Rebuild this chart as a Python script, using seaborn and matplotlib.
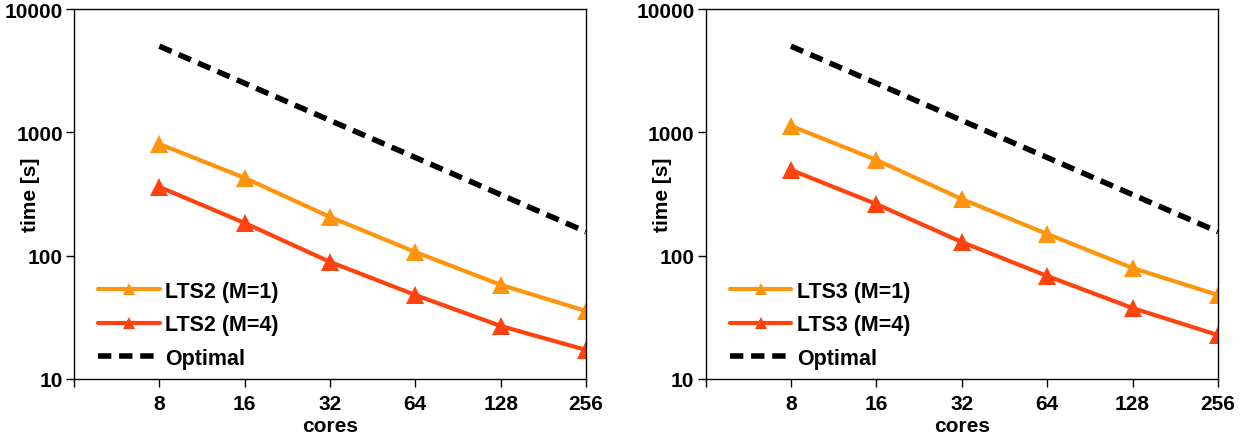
import numpy as np
import pandas as pd
import matplotlib
matplotlib.use("Agg")
import matplotlib.pyplot as plt
import seaborn as sns

# values
cores = [8, 16, 32, 64, 128, 256]
lts2_m1 = [805, 427, 206, 107, 58, 35.6]
lts2_m4 = [361, 184, 89, 48, 26.9, 17.2]
lts3_m1 = [1127, 597, 288, 150, 79.4, 48]
lts3_m4 = [496, 262, 129, 68.4, 37.6, 22.7]
optimal = [5000, 2500, 1250, 625, 312.5, 156.25]

sns.set_theme(style="white")
plt.rcParams['font.family'] = ['Liberation Sans', 'DejaVu Sans']
plt.rcParams['font.weight'] = 'bold'
plt.rcParams['axes.labelweight'] = 'bold'
plt.rcParams['text.color'] = 'black'
plt.rcParams['axes.labelcolor'] = 'black'
plt.rcParams['xtick.color'] = 'black'
plt.rcParams['ytick.color'] = 'black'

c1 = "#ff950e"
c4 = "#ff420e"

fig = plt.figure(figsize=(12.51, 4.39), dpi=100)
ax1 = fig.add_axes([74 / 1251, 59 / 439, 512 / 1251, 370 / 439])
ax2 = fig.add_axes([705.5 / 1251, 59 / 439, 512.5 / 1251, 370 / 439])

panels = [(ax1, "LTS2", lts2_m1, lts2_m4), (ax2, "LTS3", lts3_m1, lts3_m4)]
for ax, name, m1, m4 in panels:
    df = pd.DataFrame({"cores": cores, "m1": m1, "m4": m4, "opt": optimal})
    sns.lineplot(data=df, x="cores", y="m1", ax=ax, color=c1, lw=3,
                 marker="^", markersize=13, markeredgewidth=0,
                 label=f"{name} (M=1)")
    sns.lineplot(data=df, x="cores", y="m4", ax=ax, color=c4, lw=3,
                 marker="^", markersize=13, markeredgewidth=0,
                 label=f"{name} (M=4)")
    sns.lineplot(data=df, x="cores", y="opt", ax=ax, color="black", lw=4,
                 dashes=(2.4, 1.4), label="Optimal")
    ax.set_xscale("log", base=2)
    ax.set_yscale("log")
    ax.set_xlim(4, 256)
    ax.set_ylim(10, 10000)
    ax.set_xticks([4] + cores)
    ax.set_xticklabels([""] + [str(c) for c in cores])
    ax.set_yticks([10, 100, 1000, 10000])
    ax.set_yticklabels(["10", "100", "1000", "10000"])
    ax.minorticks_off()
    ax.tick_params(axis="both", which="major", direction="out", length=6,
                   width=1, color="black", labelsize=15, left=True,
                   bottom=True)
    ax.tick_params(axis="x", pad=5)
    ax.tick_params(axis="y", pad=2)
    for sp in ax.spines.values():
        sp.set_color("black")
        sp.set_linewidth(1)
        sp.set_visible(True)
    for lab in ax.get_xticklabels() + ax.get_yticklabels():
        lab.set_fontweight("bold")
        lab.set_color("black")
    ax.set_xlabel("cores", fontsize=15, fontweight="bold", color="black")
    ax.set_ylabel("time [s]", fontsize=15, fontweight="bold", color="black")
    ax.xaxis.label.set_verticalalignment("baseline")
    ax.xaxis.set_label_coords(0.5, -0.1405)
    ax.yaxis.set_label_coords(-0.066, 0.5)
    ax.legend(loc="lower left", bbox_to_anchor=(0.01, -0.025), frameon=False,
              handlelength=2.85, handletextpad=0.25, labelspacing=0.58,
              markerscale=0.7, prop={"weight": "bold", "size": 15.5})

fig.savefig("out.png", dpi=100)
